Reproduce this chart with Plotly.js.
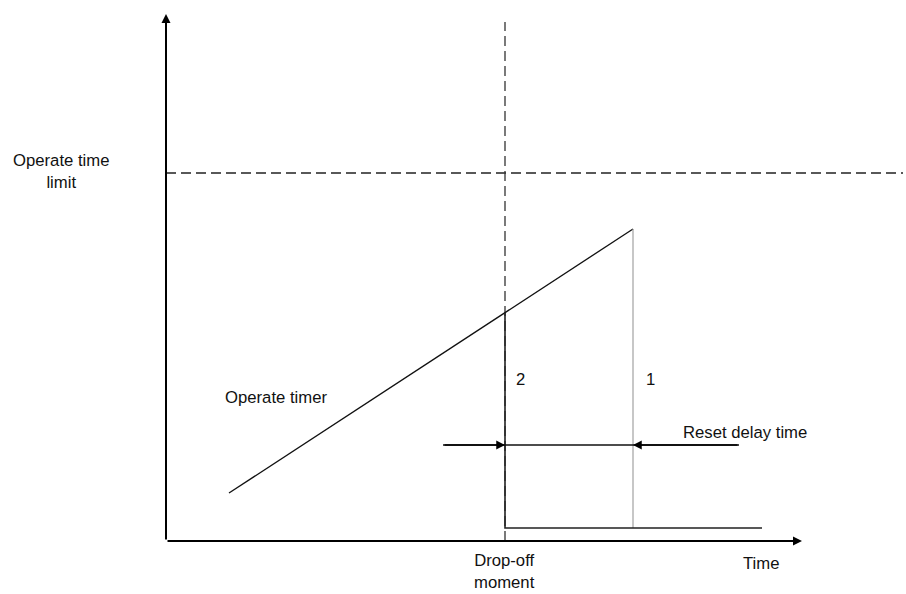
<!DOCTYPE html>
<html>
<head>
<meta charset="utf-8">
<script src="https://cdn.plot.ly/plotly-3.0.1.min.js"></script>
<style>html,body{margin:0;padding:0;background:#fff;}#chart{width:906px;height:594px;}</style>
</head>
<body>
<div id="chart"></div>
<script>
// ---- data (abstract time / timer units) ----
const axisLengthT = 63.6;          // end of time axis
const axisLengthV = 52.7;          // end of value axis
const operateLimit = 36.8;         // operate time limit level
const limitLineEnd = 73.7;
const dropOffT = 33.9;             // drop-off moment
const dropOffLineTop = 51.9;
const timerT = [6.3, 46.7];        // operate timer ramp
const timerV = [4.8, 31.2];
const reset2T = [33.9, 33.9, 59.6];   // case 2: instant reset
const reset2V = [22.8, 1.3, 1.3];
const reset1T = [46.7, 46.7];         // case 1: reset after delay
const reset1V = [31.2, 1.3];
const delayLineT = [27.7, 57.3];      // reset delay time dimension line
const delayLineV = [9.6, 9.6];
const delayStartT = 33.9;
const delayEndT = 46.7;

const labels = {
  limit: 'Operate time<br>limit',
  timer: 'Operate timer',
  two: '2',
  one: '1',
  delay: 'Reset delay time',
  drop: 'Drop-off<br>moment',
  time: 'Time'
};

const font = {family: 'Liberation Sans, Arial, sans-serif', size: 16.7, color: '#111'};

const traces = [
  {x: [0, limitLineEnd], y: [operateLimit, operateLimit], mode: 'lines',
   line: {color: '#222', width: 1.3, dash: '10px,5px'}},
  {x: [dropOffT, dropOffT], y: [0, dropOffLineTop], mode: 'lines',
   line: {color: '#333', width: 1.3, dash: '10px,5px'}},
  {x: timerT, y: timerV, mode: 'lines', line: {color: '#111', width: 1.3}},
  {x: reset1T, y: reset1V, mode: 'lines', line: {color: '#999', width: 1.1}},
  {x: reset2T, y: reset2V, mode: 'lines', line: {color: '#222', width: 1.6}},
  {x: delayLineT, y: delayLineV, mode: 'lines', line: {color: '#111', width: 1.3}}
].map(t => Object.assign(t, {type: 'scatter', hoverinfo: 'skip', showlegend: false}));

function arrow(x, y, ax, ay, w, s) {
  return {x: x, y: y, ax: ax, ay: ay, xref: 'x', yref: 'y', axref: 'x', ayref: 'y',
    text: '', showarrow: true, arrowhead: 2, arrowwidth: w, arrowsize: s,
    arrowcolor: '#000', standoff: 0, startstandoff: 0};
}
function label(text, x, y, xanchor) {
  return {x: x, y: y, xref: 'x', yref: 'y', text: text, showarrow: false,
    font: font, align: 'center', xanchor: xanchor || 'center', yanchor: 'middle'};
}

const annotations = [
  arrow(axisLengthT, 0, 0, 0, 2, 0.9),
  arrow(0, axisLengthV, 0, 0, 2, 0.9),
  arrow(delayStartT, delayLineV[0], delayLineT[0], delayLineV[0], 1.3, 1.35),
  arrow(delayEndT, delayLineV[0], delayLineT[1], delayLineV[0], 1.3, 1.35),
  label(labels.limit, -10.5, 37.0),
  label(labels.timer, 11.0, 14.4),
  label(labels.two, 35.4, 16.2),
  label(labels.one, 48.4, 16.2),
  label(labels.delay, 57.9, 10.9),
  label(labels.drop, 33.8, -3.0),
  label(labels.time, 59.5, -2.2)
];

const layout = {
  width: 906, height: 594,
  margin: {l: 0, r: 0, t: 0, b: 0, pad: 0},
  paper_bgcolor: '#fff', plot_bgcolor: '#fff',
  xaxis: {range: [-16.6, 74.0], visible: false, fixedrange: true},
  yaxis: {range: [-5.3, 54.1], visible: false, fixedrange: true},
  annotations: annotations,
  showlegend: false,
  font: font
};

Plotly.newPlot('chart', traces, layout, {staticPlot: true, displayModeBar: false});
</script>
</body>
</html>
